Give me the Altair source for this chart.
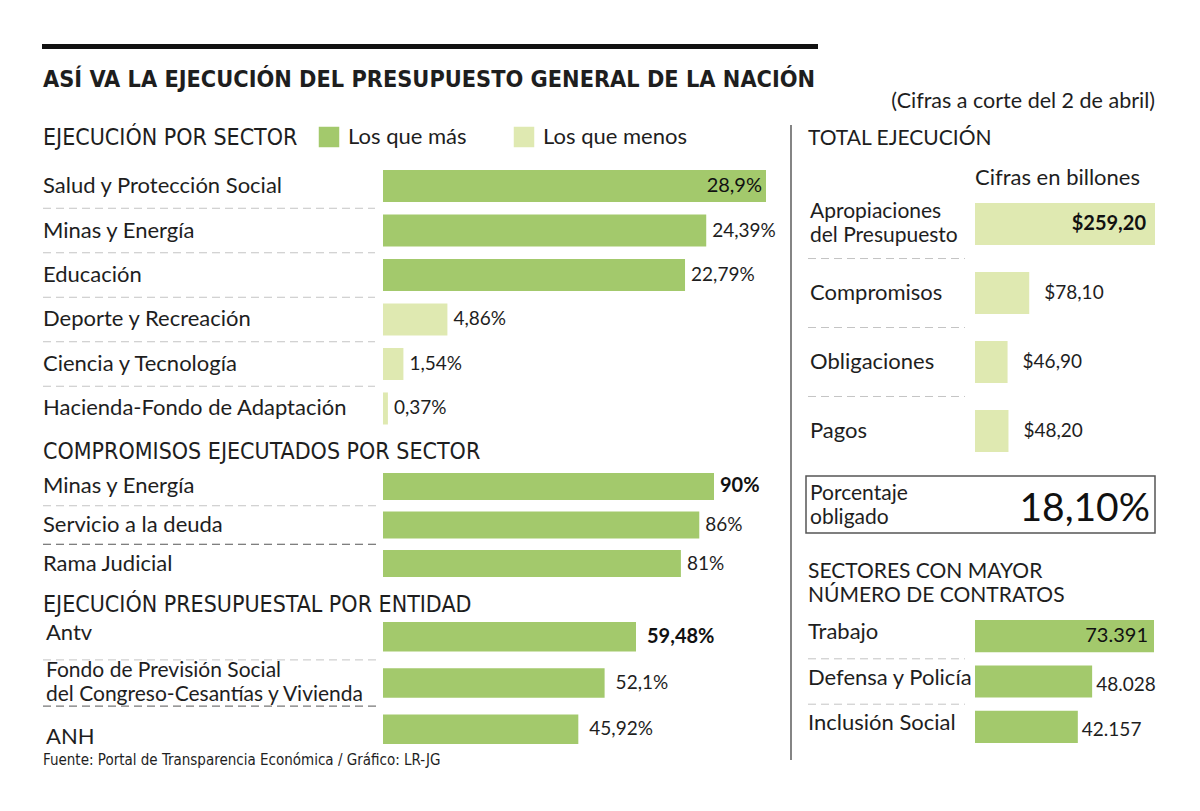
import altair as alt
import pandas as pd

# ---------------- data ----------------
sector_names = ["Salud y Protección Social", "Minas y Energía", "Educación",
                "Deporte y Recreación", "Ciencia y Tecnología", "Hacienda-Fondo de Adaptación"]
sector_values = [28.9, 24.39, 22.79, 4.86, 1.54, 0.37]
sector_groups = ["Los que más", "Los que más", "Los que más",
                 "Los que menos", "Los que menos", "Los que menos"]

comp_names = ["Minas y Energía", "Servicio a la deuda", "Rama Judicial"]
comp_values = [90, 86, 81]

ent_names = ["Antv", "Fondo de Previsión Social\ndel Congreso-Cesantías y Vivienda", "ANH"]
ent_values = [59.48, 52.1, 45.92]

total_names = ["Apropiaciones\ndel Presupuesto", "Compromisos", "Obligaciones", "Pagos"]
total_values = [259.20, 78.10, 46.90, 48.20]

contract_names = ["Trabajo", "Defensa y Policía", "Inclusión Social"]
contract_values = [73391, 48028, 42157]

porcentaje_obligado = "18,10%"

# ---------------- style ----------------
DARK = "#a3c96c"
LIGHT = "#dfe9b1"
TXT = "#1e1e1e"
FONT = "Lato, 'Open Sans', sans-serif"
COND = "'Liberation Sans Narrow', 'DejaVu Sans Condensed', Roboto, sans-serif"
SEP_LIGHT = "#c4c4c4"
SEP_DARK = "#555555"
NAME_SIZE = 22
MULTI_SIZE = 21
VAL_SIZE = 19


def pct(v):
    return f"{v:g}".replace(".", ",") + "%"


def money(v):
    return "$" + f"{v:.2f}".replace(".", ",")


def thousands(v):
    return f"{v:,}".replace(",", ".")


def frame(names, values, labels, groups=None):
    d = pd.DataFrame({"name": names, "v": values, "lab": labels,
                      "i": list(range(len(names)))})
    if groups is not None:
        d["grp"] = groups
    return d


def label(txt, x, y, size=20, font=FONT, weight="normal", align="left",
          color=TXT, baseline="alphabetic", line_height=None):
    kw = dict(align=align, baseline=baseline, font=font, fontSize=size,
              fontWeight=weight, color=color, lineBreak="\n")
    if line_height:
        kw["lineHeight"] = line_height
    return alt.Chart(pd.DataFrame({"t": [txt]})).mark_text(**kw).encode(
        x=alt.value(x), y=alt.value(y), text="t:N")


def group(df, xr, yr, pad, name_x, sep_x, color, dx_out=6,
          inside_top=False, top_bold=False, name_dy=None, dark_last_sep=False,
          val_dy=0, top_dx=-6):
    n = len(df)
    step = (yr[1] - yr[0]) / (n - pad)
    gap = step * pad
    ys = alt.Scale(domain=list(df["name"]), range=yr, paddingInner=pad, paddingOuter=0)
    xs = alt.Scale(domain=[0, float(df["v"].max())], range=xr)
    Y = alt.Y("name:N", scale=ys, axis=None)
    X = alt.X("v:Q", scale=xs, axis=None)
    base = alt.Chart(df)
    bars = base.mark_bar(cornerRadius=0).encode(x=X, y=Y, color=color)
    if name_dy is None:
        name_dy = [0] * n
    name_layers = []
    for k in range(n):
        lines = df["name"].iloc[k].count("\n")
        dy = name_dy[k] - 12 * lines
        name_layers.append(
            base.transform_filter(alt.datum.i == k).mark_text(
                align="left", baseline="middle", font=FONT,
                fontSize=MULTI_SIZE if lines else NAME_SIZE,
                color=TXT, lineBreak="\n", lineHeight=24, dy=dy).encode(
                x=alt.value(name_x), y=Y, text="name:N"))
    if dark_last_sep:
        sep_color = alt.condition(alt.datum.i == n - 2, alt.value(SEP_DARK), alt.value(SEP_LIGHT))
    else:
        sep_color = alt.value(SEP_LIGHT)
    seps = base.transform_filter(alt.datum.i < n - 1).mark_rule(
        strokeDash=[8, 5], strokeWidth=1, yOffset=gap / 2).encode(
        y=alt.Y("name:N", scale=ys, axis=None, bandPosition=1),
        x=alt.value(sep_x[0]), x2=alt.value(sep_x[1]), color=sep_color)
    layers = [bars, seps] + name_layers
    if inside_top:
        top = base.transform_filter(alt.datum.i == 0).mark_text(
            align="right", baseline="middle", dx=top_dx, font=FONT, fontSize=VAL_SIZE + 1,
            color="#111111", fontWeight="bold" if top_bold else "normal").encode(
            x=X, y=Y, text="lab:N")
    else:
        top = base.transform_filter(alt.datum.i == 0).mark_text(
            align="left", baseline="middle", dx=dx_out, font=FONT, fontSize=VAL_SIZE + 1,
            color="#111111", fontWeight="bold" if top_bold else "normal").encode(
            x=X, y=Y, text="lab:N")
    others = base.transform_filter(alt.datum.i > 0).mark_text(
        align="left", baseline="middle", dx=dx_out, dy=val_dy,
        font=FONT, fontSize=VAL_SIZE, color=TXT).encode(
        x=X, y=Y, text="lab:N")
    layers += [top, others]
    return alt.layer(*layers)


# ---------------- groups ----------------
df1 = frame(sector_names, sector_values, [pct(v) for v in sector_values], sector_groups)
legend = alt.Legend(orient="none", legendX=310, legendY=118, direction="horizontal",
                    title=None, symbolType="square", symbolSize=420,
                    symbolStrokeWidth=0, labelFontSize=22, labelFont=FONT,
                    labelColor=TXT, columnPadding=46, labelOffset=8, padding=0,
                    symbolOpacity=1)
color1 = alt.Color("grp:N", scale=alt.Scale(domain=["Los que más", "Los que menos"],
                                             range=[DARK, LIGHT]), legend=legend)
g1 = group(df1, [375, 758], [162, 416.5], 0.28, 35, [35, 367], color1, dx_out=6,
           inside_top=True, top_dx=-4)

df2 = frame(comp_names, comp_values, [pct(v) for v in comp_values])
g2 = group(df2, [375, 706], [465, 569], 0.30, 35, [35, 372], alt.value(DARK),
           dx_out=6, top_bold=True, dark_last_sep=True)

df3 = frame(ent_names, ent_values, [pct(v) for v in ent_values])
g3 = group(df3, [375, 628], [614, 736], 0.36, 38, [35, 370], alt.value(DARK),
           dx_out=11, top_bold=True, dark_last_sep=True, name_dy=[-4, 0, 8])

df4 = frame(total_names, total_values, [money(v) for v in total_values])
g4 = group(df4, [967, 1147], [195, 444], 0.39, 802, [800, 957], alt.value(LIGHT),
           dx_out=15, inside_top=True, top_bold=True, top_dx=-9)

df5 = frame(contract_names, contract_values, [thousands(v) for v in contract_values])
g5 = group(df5, [967, 1146], [612, 735], 0.29, 800, [800, 957], alt.value(DARK),
           dx_out=4, inside_top=True, name_dy=[-4, -4, -4], val_dy=3)

# ---------------- decorations ----------------
top_rule = alt.Chart(pd.DataFrame({"a": [0]})).mark_rule(color="#111111", strokeWidth=5).encode(
    x=alt.value(34), x2=alt.value(810), y=alt.value(38.5))
divider = alt.Chart(pd.DataFrame({"a": [0]})).mark_rule(color="#333333", strokeWidth=1.2).encode(
    x=alt.value(783), y=alt.value(117), y2=alt.value(752))
box = alt.Chart(pd.DataFrame({"a": [0]})).mark_rect(
    fill=None, fillOpacity=0, stroke="#555555", strokeWidth=1.5).encode(
    x=alt.value(798), x2=alt.value(1147), y=alt.value(468), y2=alt.value(525))

texts = [
    label("ASÍ VA LA EJECUCIÓN DEL PRESUPUESTO GENERAL DE LA NACIÓN", 35, 79,
          size=23.3, font=COND, weight="bold"),
    label("(Cifras a corte del 2 de abril)", 1147, 100, size=21.5, align="right"),
    label("EJECUCIÓN POR SECTOR", 35, 137, size=23, font=COND),
    label("TOTAL EJECUCIÓN", 800, 137, size=21),
    label("Cifras en billones", 967, 177, size=22),
    label("COMPROMISOS EJECUTADOS POR SECTOR", 35, 451, size=23, font=COND),
    label("EJECUCIÓN PRESUPUESTAL POR ENTIDAD", 35, 604, size=23, font=COND),
    label("Fuente: Portal de Transparencia Económica / Gráfico: LR-JG", 35, 757,
          size=15, font=COND),
    label("Porcentaje\nobligado", 802, 492, size=21, line_height=24),
    label(porcentaje_obligado, 1142, 513, size=39, align="right", color="#111111"),
    label("SECTORES CON MAYOR\nNÚMERO DE CONTRATOS", 800, 570, size=21, line_height=24),
]

chart = alt.layer(top_rule, divider, box, g1, g2, g3, g4, g5, *texts).resolve_scale(
    x="independent", y="independent", color="independent"
).properties(
    width=1184, height=795, padding=0,
    autosize=alt.AutoSizeParams(type="none"),
    background="white",
).configure_view(stroke=None)

chart.save("out.html", embed_options={"renderer": "svg", "actions": False})
